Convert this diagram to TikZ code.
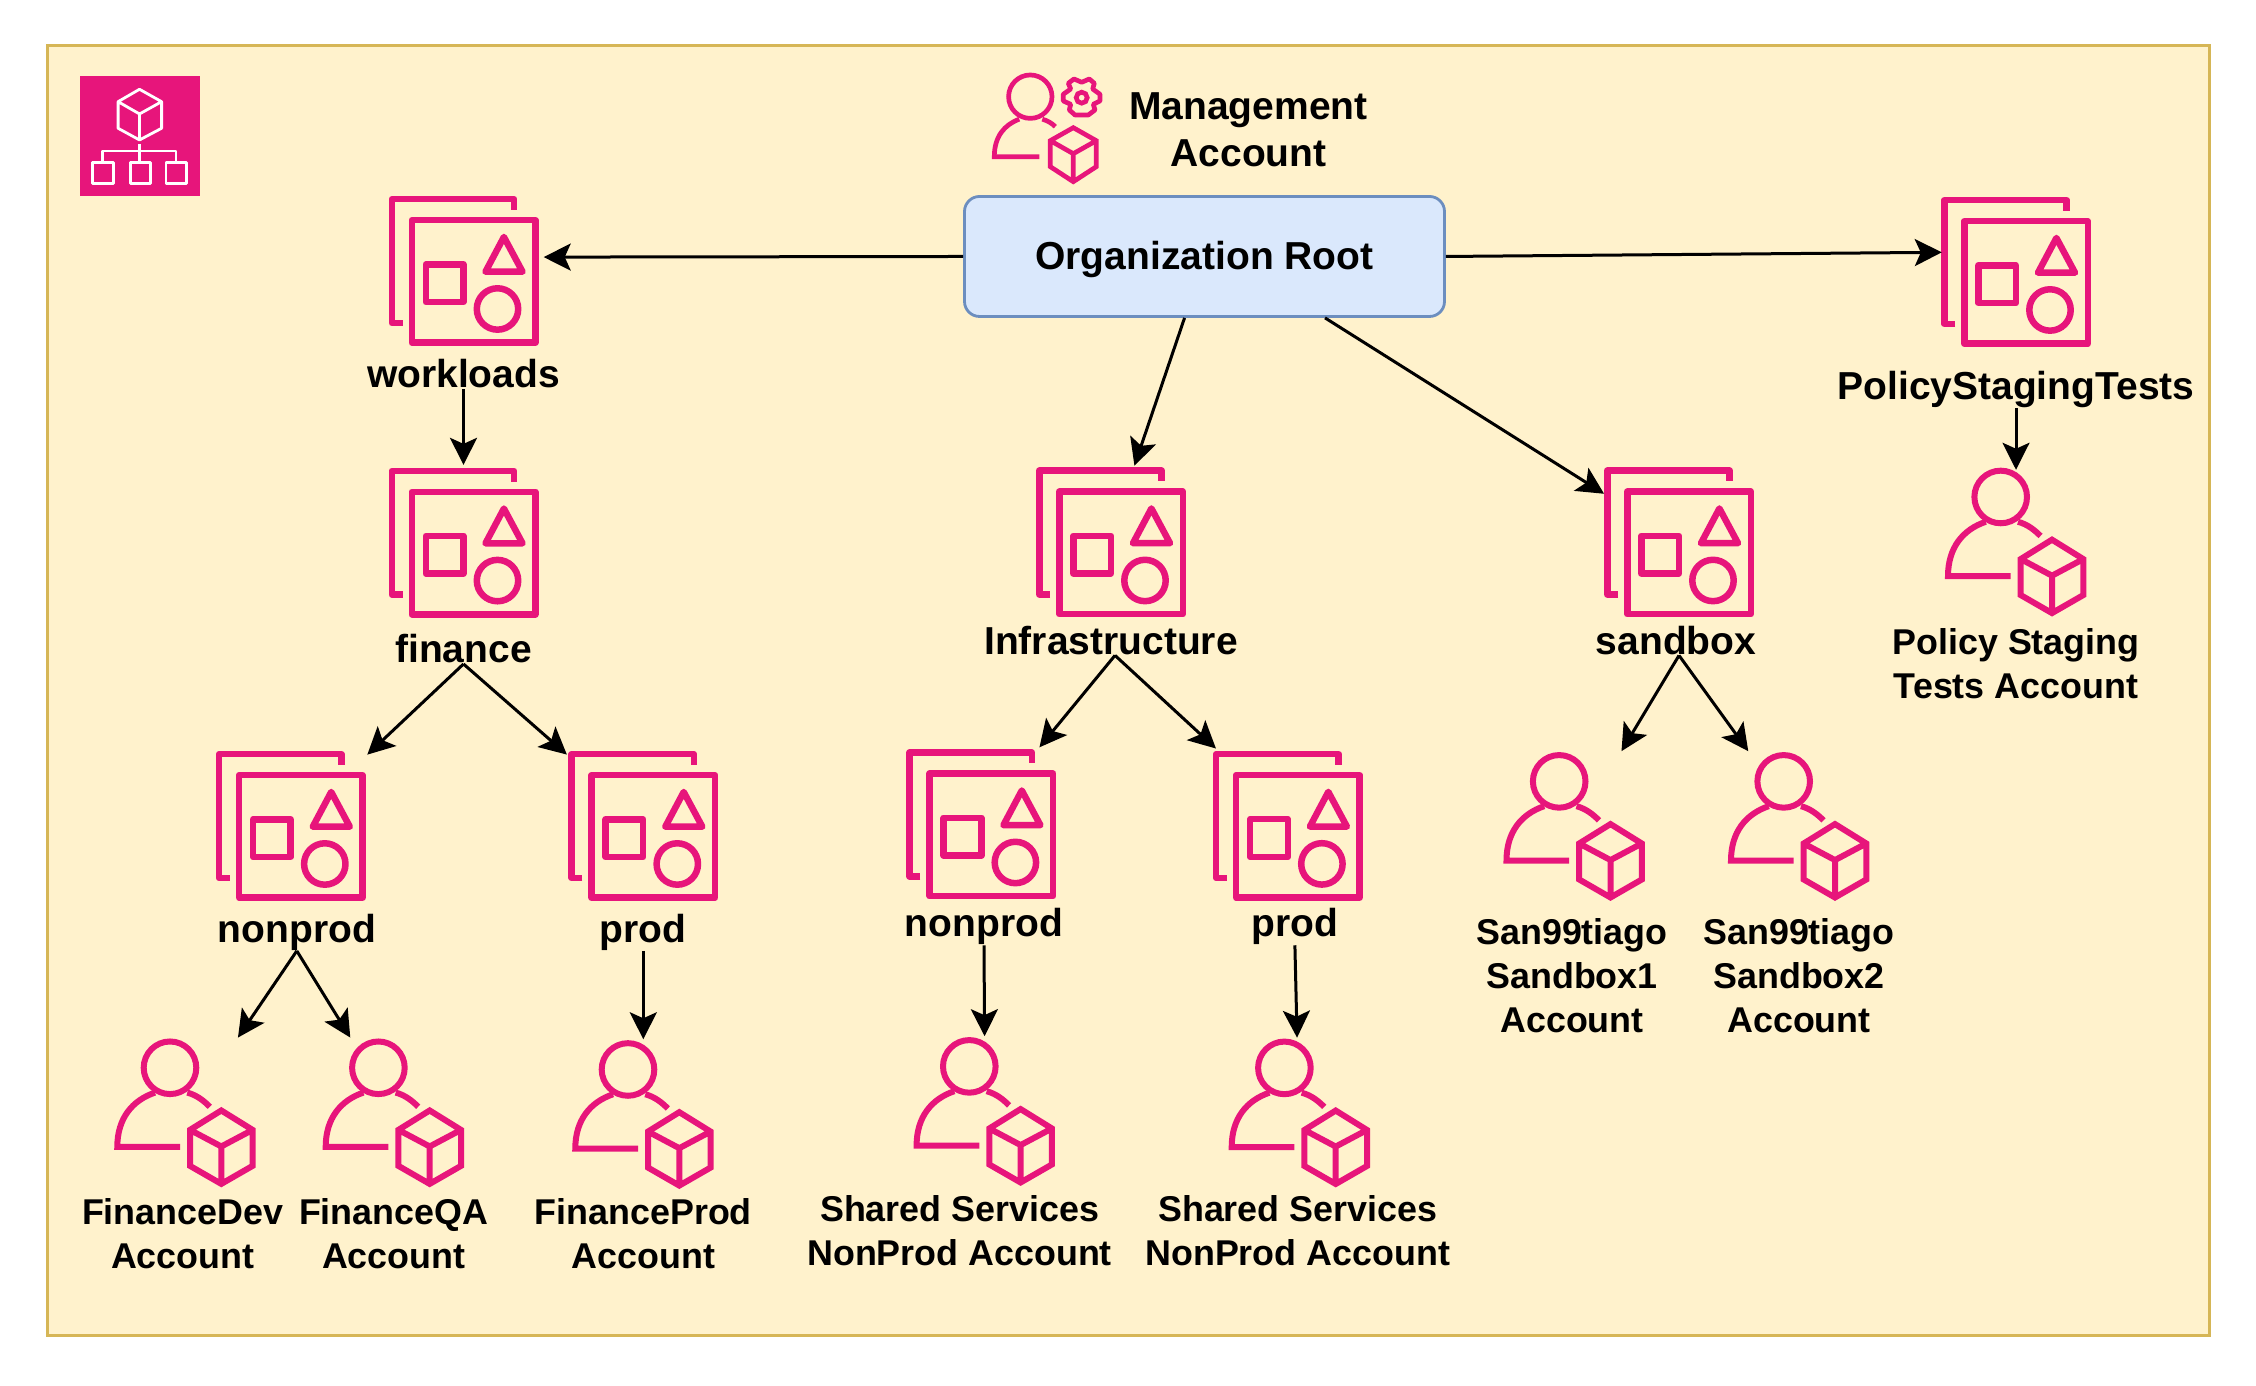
\documentclass[tikz,border=0pt]{standalone}
\usepackage{xcolor}
\usepackage{fontspec}
\setmainfont{Liberation Sans}
\usetikzlibrary{arrows.meta,positioning}
\definecolor{awspink}{HTML}{E7157B}
\definecolor{framefill}{HTML}{FFF2CC}
\definecolor{framedraw}{HTML}{D6B656}
\definecolor{rootfill}{HTML}{DAE8FC}
\definecolor{rootdraw}{HTML}{6C8EBF}

\begin{document}
\begin{tikzpicture}[
  on grid,
  oubox/.style={minimum size=1.56cm, inner sep=0pt},
  acctbox/.style={minimum width=1.42cm, minimum height=1.49cm, inner sep=0pt},
  bigtxt/.style={inner sep=0pt, align=center, font=\bfseries\fontsize{11.1}{13.6}\selectfont},
  smalltxt/.style={inner sep=0pt, align=center, font=\bfseries\fontsize{10.2}{12.5}\selectfont},
  arrow/.style={-{Stealth[length=2.7mm,width=2.7mm,inset=0.6mm]}, line width=0.3mm, black},
  % icons are drawn in 0.1mm steps, from the top left corner of the box
  oupic/.pic={
    \begin{scope}[shift={(-0.75,0.75)}, x=0.1mm, y=-0.1mm, draw=awspink, line width=0.65mm, line join=round]
      \draw (14,127) -- (3.25,127) -- (3.25,3.25) -- (125.7,3.25) -- (125.7,14);
      \draw (23.25,24.25) rectangle (146.75,146.75);
      \draw (37.3,68.3) rectangle (74.9,106);
      \draw (115.4,41) -- (134,75.7) -- (97,75.7) -- cycle;
      \draw (109,113) circle [radius=20.7];
    \end{scope}
  },
  cubepic/.pic={
    \draw[awspink, line width=0.6mm] (0,0.36) -- (0.313,0.166) -- (0.313,-0.194) -- (0,-0.374) -- (-0.313,-0.194) -- (-0.313,0.166) -- cycle
      (-0.313,0.166) -- (0,0) -- (0.313,0.166) (0,0) -- (0,-0.374);
  },
  acctpic/.pic={
    \begin{scope}[shift={(-0.71,0.745)}, x=0.1mm, y=-0.1mm, draw=awspink, line width=0.6mm]
      \draw (55.7,29.5) circle [radius=26.3];
      \draw (65.7,108.7) -- (3,108.7) .. controls (3,80) and (18,62) .. (40.7,54.3);
      \draw (73,54.3) .. controls (83,57) and (90,63) .. (95.5,68.5);
    \end{scope}
    \pic at (0.36,-0.337) {cubepic};
  },
  mgmtpic/.pic={
    \begin{scope}[shift={(-0.5,0.65)}, x=0.1mm, y=-0.1mm, draw=awspink, line width=0.47mm]
      \draw (35,32) circle [radius=21.7];
      \draw (44,92) -- (-1,92) .. controls (-1,72) and (9,60) .. (24,54.5);
      \draw (47,54.5) .. controls (52,56) and (56,58) .. (60,62);
      \draw (78,63) -- (101,76) -- (101,102) -- (78,117) -- (55,102) -- (55,76) -- cycle
        (55,76) -- (78,89) -- (101,76) (78,89) -- (78,117);
      \draw (86.4,33) circle [radius=5.5];
      % gear teeth
      \draw[line join=round] (86.4,17.6) -- (94,14.3) -- (99,18.6) -- (97.4,24.3) -- (104.7,29.6) -- (104.7,36.3)
        -- (98,39.6) -- (99.7,45.3) -- (93,50.3) -- (79.7,50.3) -- (74,45.3) -- (75.4,39.6) -- (68,36.3)
        -- (68,29.6) -- (75.4,24.3) -- (73,18.6) -- (78.7,14.3) -- cycle;
    \end{scope}
  },
  orgpic/.pic={
    \begin{scope}[shift={(-0.6,0.6)}, x=0.1mm, y=-0.1mm, draw=white, line width=0.28mm, line join=round]
      \fill[awspink] (0,0) rectangle (120,120);
      \draw (60,13.3) -- (82.1,25.7) -- (82.1,52.3) -- (60,64) -- (38.6,52.3) -- (38.6,25.7) -- cycle
        (38.6,25.7) -- (60,38) -- (82.1,25.7) (60,38) -- (60,64);
      \draw (60,68) -- (60,86.7) (23.2,86.7) -- (23.2,75) -- (96.4,75) -- (96.4,86.7);
      \draw (13.2,86.7) rectangle (34.3,107.3);
      \draw (50.7,86.7) rectangle (70.7,107.3);
      \draw (86.4,86.7) rectangle (107.1,107.3);
    \end{scope}
  }
]
\useasboundingbox (0,0) rectangle (22.56,13.86);
\fill[white] (0,0) rectangle (22.56,13.86);
\draw[fill=framefill, draw=framedraw, line width=0.3mm] (0.47,0.50) rectangle (22.09,13.40);

\node[inner sep=0pt, minimum size=1.2cm] (orgicon) at (1.395,12.5) {};
\pic at (orgicon) {orgpic};

\node[draw=rootdraw, fill=rootfill, line width=0.28mm, rounded corners=0.15cm, minimum width=4.8cm, minimum height=1.2cm, bigtxt, text depth=0.25mm] (root) at (12.045,11.295) {Organization Root};

\node[inner sep=0pt, minimum size=1.3cm] (mgmticon) at (10.453,12.563) {};
\pic at (mgmticon) {mgmtpic};
\node[bigtxt, right=2.032cm of mgmticon] (mgmttxt) {Management\\Account};

% organizational units
\node[oubox, below left=0.145cm and 7.41cm of root] (workloads) {};
\node[oubox, below right=0.155cm and 8.115cm of root] (policy) {};
\node[oubox, below left=2.86cm and 0.935cm of root] (infra) {};
\node[oubox, below right=2.86cm and 4.745cm of root] (sandbox) {};
\node[oubox, below=2.716cm of workloads] (finance) {};
\node[oubox, below left=2.834cm and 1.727cm of finance] (finnonprod) {};
\node[oubox, below right=2.834cm and 1.798cm of finance] (finprod) {};
\node[oubox, below left=2.82cm and 1.296cm of infra] (infranonprod) {};
\node[oubox, below right=2.834cm and 1.769cm of infra] (infraprod) {};
\pic at (workloads) {oupic};
\pic at (policy) {oupic};
\pic at (infra) {oupic};
\pic at (sandbox) {oupic};
\pic at (finance) {oupic};
\pic at (finnonprod) {oupic};
\pic at (finprod) {oupic};
\pic at (infranonprod) {oupic};
\pic at (infraprod) {oupic};

\node[bigtxt, below=1.03cm of workloads] (workloadstxt) {workloads};
\node[bigtxt, below=1.064cm of finance] (financetxt) {finance};
\node[bigtxt, below right=1.06cm and 0.06cm of finnonprod] (finnonprodtxt) {nonprod};
\node[bigtxt, below=1.06cm of finprod] (finprodtxt) {prod};
\node[bigtxt, below=0.979cm of infra] (infratxt) {Infrastructure};
\node[bigtxt, below left=0.979cm and 0.03cm of sandbox] (sandboxtxt) {sandbox};
\node[bigtxt, below=1.175cm of policy] (policytxt) {PolicyStagingTests};
\node[bigtxt, below right=1.02cm and 0.026cm of infranonprod] (infranonprodtxt) {nonprod};
\node[bigtxt, below right=1.005cm and 0.07cm of infraprod] (infraprodtxt) {prod};

% accounts
\node[acctbox, below left=2.868cm and 1.055cm of finnonprod] (dev) {};
\node[acctbox, below right=2.868cm and 1.029cm of finnonprod] (qa) {};
\node[acctbox, below=2.885cm of finprod] (fprod) {};
\node[acctbox, below right=2.869cm and 0.032cm of infranonprod] (sharedone) {};
\node[acctbox, below right=2.87cm and 0.118cm of infraprod] (sharedtwo) {};
\node[acctbox, below left=2.839cm and 1.045cm of sandbox] (sanone) {};
\node[acctbox, below right=2.839cm and 1.2cm of sandbox] (santwo) {};
\node[acctbox, below=2.7cm of policy] (polacct) {};
\pic at (dev) {acctpic};
\pic at (qa) {acctpic};
\pic at (fprod) {acctpic};
\pic at (sharedone) {acctpic};
\pic at (sharedtwo) {acctpic};
\pic at (sanone) {acctpic};
\pic at (santwo) {acctpic};
\pic at (polacct) {acctpic};

\node[smalltxt, below left=1.21cm and 0.026cm of dev] (devtxt) {FinanceDev\\Account};
\node[smalltxt, below=1.21cm of qa] (qatxt) {FinanceQA\\Account};
\node[smalltxt, below=1.193cm of fprod] (fprodtxt) {FinanceProd\\Account};
\node[smalltxt, below left=1.195cm and 0.25cm of sharedone] (sharedonetxt) {Shared Services\\NonProd Account};
\node[smalltxt, below left=1.18cm and 0.02cm of sharedtwo] (sharedtwotxt) {Shared Services\\NonProd Account};
\node[smalltxt, below left=1.49cm and 0.025cm of sanone] (sanonetxt) {San99tiago\\Sandbox1\\Account};
\node[smalltxt, below=1.49cm of santwo] (santwotxt) {San99tiago\\Sandbox2\\Account};
\node[smalltxt, below=1.22cm of polacct] (polaccttxt) {Policy Staging\\Tests Account};

\draw[arrow, shorten >=0.15mm] (root.west) -- (workloads.10);
\draw[arrow, shorten >=-0.45mm] (root.east) -- (policy.166);
\draw[arrow, shorten >=-0.2mm] (root.-108) -- (infra.73);
\draw[arrow, shorten >=-0.45mm] (root.-27) -- (sandbox.147);
\draw[arrow, shorten >=-0.1mm] (workloadstxt.south) -- (finance.north);
\draw[arrow, shorten >=-0.3mm] (policytxt.south) -- (polacct.north);
\draw[arrow, shorten >=-0.3mm] (financetxt.south) -- (finnonprod.43);
\draw[arrow, shorten >=-0.3mm] (financetxt.south) -- (finprod.137);
\draw[arrow, shorten >=-0.2mm] ([xshift=0.04cm]infratxt.south) -- (infranonprod.53);
\draw[arrow, shorten >=-0.2mm] ([xshift=0.04cm]infratxt.south) -- (infraprod.133);
\draw[arrow] ([xshift=0.03cm]sandboxtxt.south) -- (sanone.58);
\draw[arrow] ([xshift=0.03cm]sandboxtxt.south) -- (santwo.124);
\draw[arrow] (finnonprodtxt.south) -- (dev.55);
\draw[arrow] (finnonprodtxt.south) -- (qa.120);
\draw[arrow] (finprodtxt.south) -- (fprod.north);
\draw[arrow] (infranonprodtxt.south) -- (sharedone.north);
\draw[arrow] (infraprodtxt.south) -- (sharedtwo.92);
\end{tikzpicture}
\end{document}
